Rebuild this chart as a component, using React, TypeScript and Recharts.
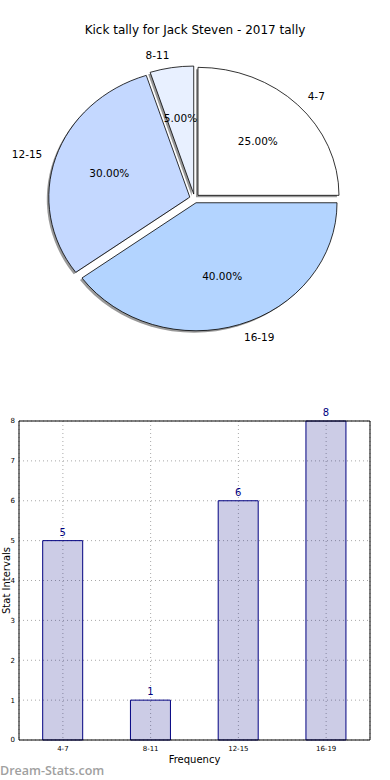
import React from "react";
import {
  PieChart,
  Pie,
  Cell,
  BarChart,
  Bar,
  XAxis,
  YAxis,
  CartesianGrid,
  LabelList,
} from "recharts";

const categories = ["4-7", "8-11", "12-15", "16-19"];
const frequencies = [5, 1, 6, 8];
const percents = ["25.00%", "5.00%", "30.00%", "40.00%"];
const yTicks = [0, 1, 2, 3, 4, 5, 6, 7, 8];

const PIE_COLORS = ["#ffffff", "#e8f0ff", "#c4d8ff", "#b3d4ff"];
const EXPLODE = 0.035;
const Y_SCALE = 128 / 141; // pie is drawn as an ellipse
const FONT = "'DejaVu Sans', sans-serif";

const pieData = categories.map((c, i) => ({ name: c, value: frequencies[i], pct: percents[i] }));
const barData = categories.map((c, i) => ({ name: c, value: frequencies[i] }));

const rad = (a: number) => (a * Math.PI) / 180;

function ellipsePath(cx: number, cy: number, r: number, a0: number, a1: number) {
  const rx = r;
  const ry = r * Y_SCALE;
  const x0 = cx + rx * Math.cos(rad(a0));
  const y0 = cy - ry * Math.sin(rad(a0));
  const x1 = cx + rx * Math.cos(rad(a1));
  const y1 = cy - ry * Math.sin(rad(a1));
  const large = Math.abs(a1 - a0) > 180 ? 1 : 0;
  return `M${cx},${cy} L${x0},${y0} A${rx},${ry} 0 ${large} 0 ${x1},${y1} Z`;
}

function PieSlice(props: any) {
  const { cx, cy, outerRadius, startAngle, endAngle, fill } = props;
  const mid = (startAngle + endAngle) / 2;
  const dx = EXPLODE * outerRadius * Math.cos(rad(mid));
  const dy = -EXPLODE * outerRadius * Y_SCALE * Math.sin(rad(mid));
  const d = ellipsePath(cx + dx, cy + dy, outerRadius, startAngle, endAngle);
  return (
    <g>
      <path d={d} fill="#000" fillOpacity={0.4} transform="translate(-2,2)" />
      <path d={d} fill={fill} stroke="#000" strokeWidth={0.8} />
    </g>
  );
}

function PieLabel(props: any) {
  const { cx, cy, outerRadius, midAngle, payload } = props;
  const cos = Math.cos(rad(midAngle));
  const sin = Math.sin(rad(midAngle));
  const ox = EXPLODE * outerRadius * cos;
  const oy = -EXPLODE * outerRadius * Y_SCALE * sin;
  const px = cx + ox + 0.6 * outerRadius * cos;
  const py = cy + oy - 0.6 * outerRadius * Y_SCALE * sin;
  const lx = cx + ox + 1.1 * outerRadius * cos;
  const ly = cy + oy - 1.1 * outerRadius * Y_SCALE * sin;
  const name = payload?.name ?? props.name;
  const pct = payload?.pct ?? props.pct;
  return (
    <g fontFamily={FONT} fontSize={10.5} fill="#000">
      <text x={px} y={py} textAnchor="middle" dominantBaseline="central">
        {pct}
      </text>
      <text x={lx} y={ly} textAnchor={cos >= 0 ? "start" : "end"} dominantBaseline="central">
        {name}
      </text>
    </g>
  );
}

function YTitle(props: any) {
  const vb = props.viewBox || {};
  const cy = (vb.y ?? 0) + (vb.height ?? 0) / 2;
  return (
    <text
      x={6}
      y={cy}
      transform={`rotate(-90, 6, ${cy})`}
      textAnchor="middle"
      dominantBaseline="central"
      fontFamily={FONT}
      fontSize={10}
      fill="#000"
    >
      Stat Intervals
    </text>
  );
}

export default function App() {
  return (
    <div style={{ position: "absolute", left: 0, top: 0, width: 390, height: 780, background: "#fff" }}>
      <div
        style={{
          position: "absolute",
          top: 23,
          left: 0,
          width: 390,
          textAlign: "center",
          fontFamily: FONT,
          fontSize: 12,
          color: "#000",
        }}
      >
        Kick tally for Jack Steven - 2017 tally
      </div>
      <div style={{ position: "absolute", left: 0, top: 0 }}>
        <PieChart width={390} height={400} margin={{ top: 0, right: 0, bottom: 0, left: 0 }}>
          <Pie
            data={pieData}
            dataKey="value"
            nameKey="name"
            cx={194.5}
            cy={198.5}
            outerRadius={141}
            startAngle={0}
            endAngle={360}
            isAnimationActive={false}
            labelLine={false}
            label={PieLabel}
            shape={PieSlice}
            stroke="#000"
          >
            {pieData.map((d, i) => (
              <Cell key={d.name} fill={PIE_COLORS[i]} />
            ))}
          </Pie>
        </PieChart>
      </div>
      <div style={{ position: "absolute", left: 0, top: 400 }}>
        <BarChart
          width={390}
          height={380}
          data={barData}
          margin={{ top: 20, right: 19, bottom: 10, left: 0 }}
          barCategoryGap="27%"
        >
          <CartesianGrid stroke="#a8a8a8" strokeDasharray="1 3" />
          <XAxis
            dataKey="name"
            tick={{ fontSize: 7, fill: "#000", fontFamily: FONT }}
            tickLine={false}
            tickSize={0}
            tickMargin={6}
            axisLine={{ stroke: "#000" }}
            height={30}
            label={{ value: "Frequency", position: "insideBottom", offset: 7, fontSize: 10, fill: "#000", fontFamily: FONT }}
          />
          <XAxis xAxisId="top" dataKey="name" orientation="top" height={1} tick={false} tickLine={false} axisLine={{ stroke: "#000" }} />
          <YAxis
            domain={[0, 8]}
            ticks={yTicks}
            tick={{ fontSize: 7, fill: "#000", fontFamily: FONT }}
            tickLine={false}
            tickSize={0}
            tickMargin={4}
            axisLine={{ stroke: "#000" }}
            width={19}
            label={<YTitle />}
          />
          <YAxis yAxisId="right" orientation="right" domain={[0, 8]} width={1} tick={false} tickLine={false} axisLine={{ stroke: "#000" }} />
          <Bar dataKey="value" fill="#000080" fillOpacity={0.2} stroke="#000080" strokeWidth={1} isAnimationActive={false}>
            <LabelList dataKey="value" position="top" fill="#000080" fontSize={10} fontFamily={FONT} offset={5} />
          </Bar>
        </BarChart>
      </div>
      <div
        style={{
          position: "absolute",
          left: 0,
          top: 762,
          fontFamily: "'Open Sans', sans-serif",
          fontWeight: 600,
          fontSize: 12.5,
          color: "#a0a0a0",
        }}
      >
        Dream-Stats.com
      </div>
    </div>
  );
}
